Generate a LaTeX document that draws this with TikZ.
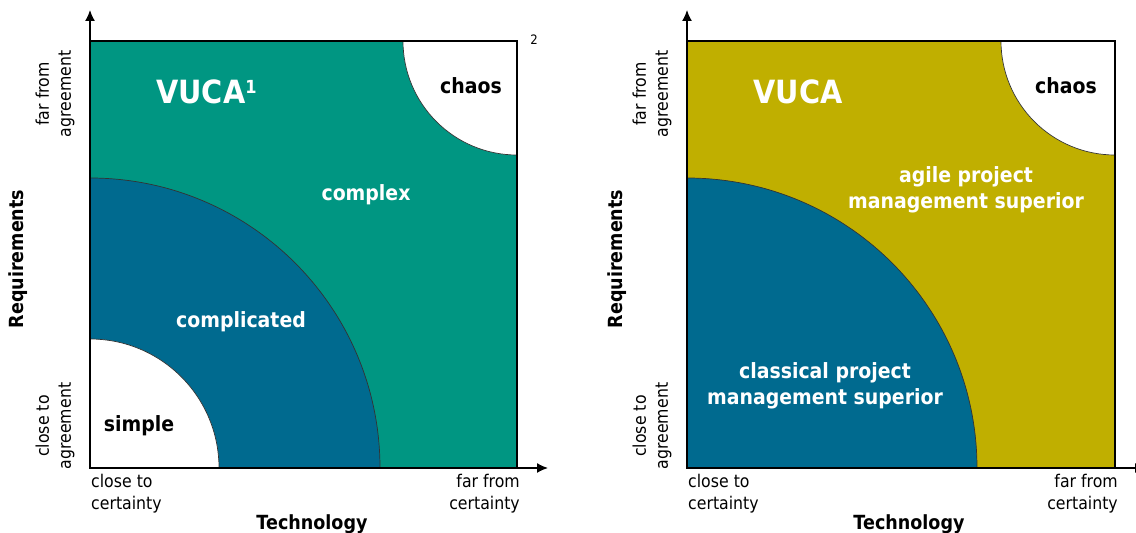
\documentclass[tikz,border=0pt]{standalone}
\usepackage{fontspec}
\setmainfont{DejaVu Sans}[FakeStretch=0.9]
\usepackage{tikz}
\usetikzlibrary{arrows.meta}
\definecolor{vucagreen}{RGB}{0,150,130}
\definecolor{vucablue}{RGB}{0,106,143}
\definecolor{vucaolive}{RGB}{192,175,0}

\begin{document}
\begin{tikzpicture}[x=1pt, y=1pt]
\tikzstyle{region} = [font=\bfseries\fontsize{21}{26}\selectfont, text=white, align=center, inner sep=0]
\tikzstyle{dark region} = [region, text=black]
\tikzstyle{title} = [font=\bfseries\fontsize{32}{36}\selectfont, text=white, inner sep=0]
\tikzstyle{scale label} = [font=\fontsize{17.5}{22}\selectfont, inner sep=0]
\tikzstyle{axis label} = [font=\bfseries\fontsize{19.5}{24}\selectfont, inner sep=0]
\tikzstyle{axis} = [line width=1.4pt, -{Latex[length=11pt, width=10pt]}]
\tikzstyle{border} = [line width=1.4pt]
\tikzstyle{arc line} = [line width=0.7pt, draw=black!80]
\useasboundingbox (0,0) rectangle (1136,533);

% left square: simple / complicated / complex / chaos
\coordinate (O1) at (90,65);
\coordinate (C1) at (517,492);
\coordinate (Y1) at (90,523);
\coordinate (X1) at (548,65);
\fill[vucagreen] (O1) rectangle (C1);
\filldraw[fill=vucablue, arc line] (O1) -- ++(290,0) arc[start angle=0, end angle=90, radius=290pt] -- cycle;
\filldraw[fill=white, arc line] (O1) -- ++(129,0) arc[start angle=0, end angle=90, radius=129pt] -- cycle;
\filldraw[fill=white, arc line] (C1) -- ++(-114,0) arc[start angle=180, end angle=270, radius=114pt] -- cycle;
\draw[border] (O1) rectangle (C1);
\draw[axis] (O1) -- (Y1);
\draw[axis] (O1) -- (X1);

\node[title, anchor=base west] (vuca1) at (156,429) {VUCA\raisebox{10pt}{\fontsize{18}{18}\selectfont 1}};
\node[dark region] (chaos1) at (471,447) {chaos};
\node[region] (complex) at (366,338) {complex};
\node[region] (complicated) at (241,211) {complicated};
\node[dark region] (simple) at (139,107) {simple};
\node[font=\fontsize{13}{13}\selectfont] (note) at (534,493) {2};

\node[scale label, anchor=west, align=left] (tlow1) at (91,39) {close to\\certainty};
\node[scale label, anchor=east, align=right] (thigh1) at (520,39) {far from\\certainty};
\node[scale label, rotate=90, align=center] (rlow1) at (55,107) {close to\\agreement};
\node[scale label, rotate=90, align=center] (rhigh1) at (55,439) {far from\\agreement};
\node[axis label] (tech1) at (312,9) {Technology};
\node[axis label, rotate=90] (req1) at (18,274) {Requirements};

% right square: classical vs. agile
\coordinate (O2) at (687,65);
\coordinate (C2) at (1115,492);
\coordinate (Y2) at (687,523);
\coordinate (X2) at (1146,65);
\fill[vucaolive] (O2) rectangle (C2);
\filldraw[fill=vucablue, arc line] (O2) -- ++(290,0) arc[start angle=0, end angle=90, radius=290pt] -- cycle;
\filldraw[fill=white, arc line] (C2) -- ++(-114,0) arc[start angle=180, end angle=270, radius=114pt] -- cycle;
\draw[border] (O2) rectangle (C2);
\draw[axis] (O2) -- (Y2);
\draw[axis] (O2) -- (X2);

\node[title] (vuca2) at (798,441) {VUCA};
\node[dark region] (chaos2) at (1066,447) {chaos};
\node[region] (agile) at (966,343) {agile project\\management superior};
\node[region] (classical) at (825,147) {classical project\\management superior};

\node[scale label, anchor=west, align=left] (tlow2) at (688,39) {close to\\certainty};
\node[scale label, anchor=east, align=right] (thigh2) at (1118,39) {far from\\certainty};
\node[scale label, rotate=90, align=center] (rlow2) at (652,107) {close to\\agreement};
\node[scale label, rotate=90, align=center] (rhigh2) at (652,439) {far from\\agreement};
\node[axis label] (tech2) at (909,9) {Technology};
\node[axis label, rotate=90] (req2) at (617,274) {Requirements};
\end{tikzpicture}
\end{document}
